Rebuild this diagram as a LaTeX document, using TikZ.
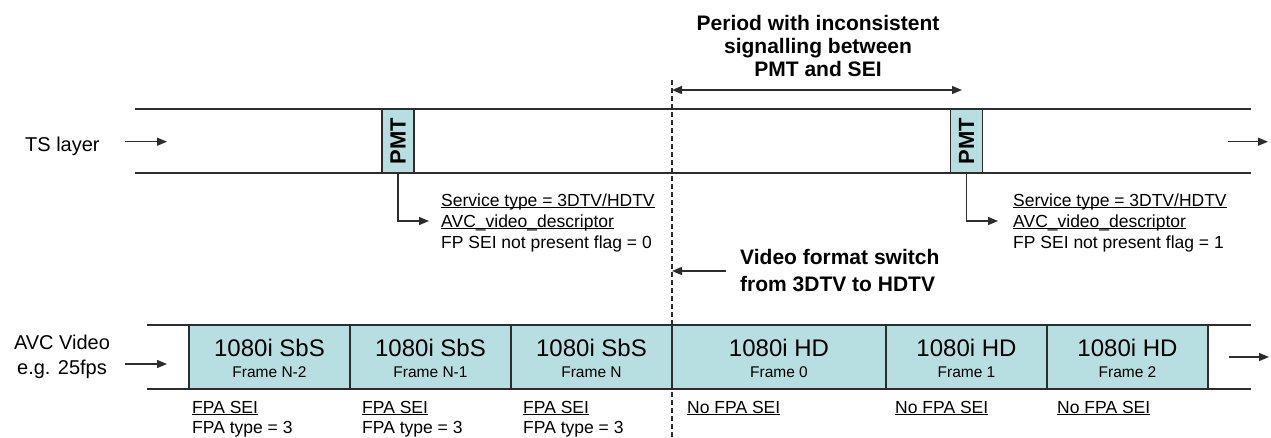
\documentclass[tikz,border=0pt]{standalone}
\usepackage{fontspec}
\setmainfont{Liberation Sans}
\usetikzlibrary{arrows.meta}
\definecolor{framefill}{RGB}{183,222,225}
\definecolor{linegray}{RGB}{45,45,45}
\newsavebox\ulbox
\newcommand{\ulin}[1]{\sbox\ulbox{#1}\rlap{\rule[-1.8pt]{\wd\ulbox}{1pt}}\usebox\ulbox}
\begin{document}
\begin{tikzpicture}[x=1pt,y=-1pt,
  band/.style={draw=linegray, line width=1.6pt},
  arr/.style={draw=linegray, line width=1.3pt, -{Triangle[length=10pt,width=8pt]}},
  dbl/.style={draw=linegray, line width=1.3pt, {Triangle[length=10pt,width=8pt]}-{Triangle[length=10pt,width=8pt]}},
  dashline/.style={draw=linegray, line width=1.1pt, dash pattern=on 5pt off 3pt},
  pmtbox/.style={draw=linegray, line width=1.4pt, fill=framefill, minimum width=32pt, minimum height=64pt, inner sep=0pt, font=\bfseries\fontsize{22}{24}\selectfont},
  framebox/.style={draw=linegray, line width=1.6pt, fill=framefill, minimum height=64pt, inner sep=0pt},
  lab/.style={font=\fontsize{17.5}{21}\selectfont, anchor=base west, inner sep=0pt},
  big/.style={font=\fontsize{24}{28}\selectfont, anchor=base, inner sep=0pt},
  small/.style={font=\fontsize{15.5}{18}\selectfont, anchor=base, inner sep=0pt},
  side/.style={font=\fontsize{20}{25.5}\selectfont, inner sep=0pt},
  heading/.style={font=\bfseries\fontsize{21}{23.3}\selectfont, align=center, inner sep=0pt}
]
\useasboundingbox (0,0) rectangle (1271,437);

% ---- coordinates
\coordinate (dtop) at (672,80);
\coordinate (dbot) at (672,437);
\coordinate (pa) at (672,90);
\coordinate (pb) at (962,90);
\coordinate (tsa) at (125,141.7);
\coordinate (tsb) at (167,141.7);
\coordinate (tsc) at (1228,141.7);
\coordinate (tsd) at (1268,141.7);
\coordinate (ava) at (125,364);
\coordinate (avb) at (167,364);
\coordinate (avc) at (1229,357);
\coordinate (avd) at (1269,357);
\coordinate (t1) at (429,221);
\coordinate (t2) at (998,221);

% ---- TS layer band
\draw[band] (135,109) -- (1251,109);
\draw[band] (135,173) -- (1251,173);
% ---- AVC band
\draw[band] (147,325) -- (1251,325);
\draw[band] (147,389) -- (1251,389);

% ---- dashed line
\draw[dashline] (dtop) -- (dbot);

% ---- heading and period arrow
\node[heading] (title) at (818,46) {Period with inconsistent\\signalling between\\PMT and SEI};
\draw[dbl] (pa) -- (pb);

% ---- side labels
\node[side, anchor=base west] (ts) at (25,151.5) {TS layer};
\draw[arr] (tsa) -- (tsb);
\draw[arr] (tsc) -- (tsd);
\node[side, align=center] (avcv) at (62,357) {AVC Video\\e.g. 25fps};
\draw[arr] (ava) -- (avb);
\draw[arr] (avc) -- (avd);

% ---- PMT boxes
\node[pmtbox] (pmt1) at (398,141) {\rotatebox{90}{PMT}};
\node[pmtbox] (pmt2) at (966.5,141) {\rotatebox{90}{PMT}};

% ---- PMT labels
\node[lab] (l1a) at (441,206.5) {\ulin{Service type = 3DTV/HDTV}};
\node[lab] (l1b) at (441,227.5) {\ulin{AVC\_video\_descriptor}};
\node[lab] (l1c) at (441,248.5) {FP SEI not present flag = 0};
\node[lab] (l2a) at (1013,206.5) {\ulin{Service type = 3DTV/HDTV}};
\node[lab] (l2b) at (1013,227.5) {\ulin{AVC\_video\_descriptor}};
\node[lab] (l2c) at (1013,248.5) {FP SEI not present flag = 1};
\draw[arr] (pmt1.south) |- (t1);
\draw[arr] (pmt2.south) |- (t2);

% ---- switch label
\node[heading, align=left, font=\bfseries\fontsize{21}{27}\selectfont, anchor=west] (sw) at (740,271) {Video format switch\\from 3DTV to HDTV};
\draw[arr, shorten <=14pt] (sw.west) -- (sw.west -| dtop);

% ---- frames
\node[framebox, minimum width=161pt] (f1) at (269.5,357) {};
\node[framebox, minimum width=161pt] (f2) at (430.5,357) {};
\node[framebox, minimum width=161pt] (f3) at (591.5,357) {};
\node[framebox, minimum width=214pt] (f4) at (779,357) {};
\node[framebox, minimum width=161pt] (f5) at (966.5,357) {};
\node[framebox, minimum width=161pt] (f6) at (1127.5,357) {};

\node[big] (b1) at (269.5,356) {1080i SbS};
\node[small] (s1) at (269.5,377) {Frame N-2};
\node[big] (b2) at (430.5,356) {1080i SbS};
\node[small] (s2) at (430.5,377) {Frame N-1};
\node[big] (b3) at (591.5,356) {1080i SbS};
\node[small] (s3) at (591.5,377) {Frame N};
\node[big] (b4) at (779,356) {1080i HD};
\node[small] (s4) at (779,377) {Frame 0};
\node[big] (b5) at (966.5,356) {1080i HD};
\node[small] (s5) at (966.5,377) {Frame 1};
\node[big] (b6) at (1127.5,356) {1080i HD};
\node[small] (s6) at (1127.5,377) {Frame 2};

% ---- frame labels
\node[lab] (fa1) at (192,413.3) {\ulin{FPA SEI}};
\node[lab] (fb1) at (192,433.3) {FPA type = 3};
\node[lab] (fa2) at (362,413.3) {\ulin{FPA SEI}};
\node[lab] (fb2) at (362,433.3) {FPA type = 3};
\node[lab] (fa3) at (523,413.3) {\ulin{FPA SEI}};
\node[lab] (fb3) at (523,433.3) {FPA type = 3};
\node[lab] (fa4) at (687,413.3) {\ulin{No FPA SEI}};
\node[lab] (fa5) at (895,413.3) {\ulin{No FPA SEI}};
\node[lab] (fa6) at (1057,413.3) {\ulin{No FPA SEI}};
\end{tikzpicture}
\end{document}
